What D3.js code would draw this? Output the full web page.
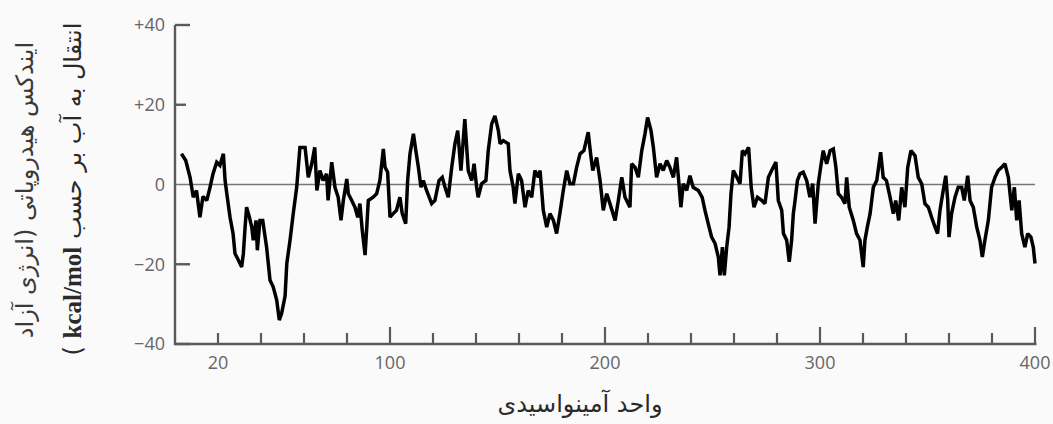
<!DOCTYPE html>
<html>
<head>
<meta charset="utf-8">
<script src="https://cdn.jsdelivr.net/npm/d3@7"></script>
<style>
    body { margin: 0; background: #fafafa; }
    svg { display: block; }
</style>
</head>
<body>
<div id="chart"></div>
<script>
// residue number (x) and hydropathy value (y)
var residuo = [3, 5, 7, 8.5, 10, 11.6, 13, 14.8, 16.3, 17.7, 19.4, 20.9, 22.5, 23.3, 24.1, 25.6, 27, 27.9, 29.5, 31,
    31.8, 32.6, 33.3, 34.6, 35.7, 36.4, 37.7, 38.3, 39.5, 40.8, 42.6, 44.2, 45.7, 47.3, 48.5, 49.6, 51.2, 52, 53.5, 55,
    56.6, 58.1, 60.5, 62, 63.6, 65, 66, 67.4, 68.9, 70.5, 71.2, 72.9, 74.4, 75.9, 77.2, 78.3, 79.9, 80.6, 82.2, 83.7,
    85, 86, 87.1, 88.4, 89.2, 89.9, 92.2, 93.8, 95.3, 96.9, 97.7, 98.9, 100, 101.5, 103, 104.6, 105.7, 107.3, 108.2, 109.3,
    110.9, 112, 113.2, 114.4, 115.5, 117, 119.4, 120.9, 122.8, 124.3, 125.6, 127.1, 128.7, 130.2, 131.5, 133, 134.8, 136.4, 138, 139.1,
    140.3, 141, 142.6, 144.6, 145.7, 147.3, 148.8, 150.4, 151.2, 152.7, 155, 155.8, 157.3, 158.1, 159.7, 161.2, 162.8, 164.3, 165.9, 167.4,
    169, 169.8, 171.3, 172.9, 174.4, 176, 177.5, 179, 180.6, 182.2, 183.7, 185.3, 186.8, 188.4, 190.2, 192.2, 193.3, 194.3, 196.1, 197.7,
    199.2, 200.8, 202.3, 204.7, 206.2, 207.8, 209.3, 211.6, 212.4, 214, 215.5, 217.1, 218.6, 219.8, 221.4, 222.5, 224, 225.6, 227.1, 228.7,
    230.2, 231.8, 233.3, 234.4, 235.3, 236.4, 238, 239.5, 241, 243.4, 245.2, 246.5, 248, 249.6, 251.2, 252.7, 253.5, 254.6, 255.5, 256.6,
    257.7, 258.6, 259.7, 261.3, 262.8, 263.9, 265.1, 266.8, 268, 269.3, 270.9, 272.9, 274.4, 276, 277.5, 279.5, 280.6, 282.2, 283, 284.5,
    285.7, 286.8, 287.6, 288.4, 289.5, 290.7, 292.2, 293.8, 295.3, 296.6, 297.7, 299.2, 300.3, 301.5, 303.1, 304.7, 306.2, 307.4, 308.5, 310,
    311.6, 312.4, 313.6, 315.5, 317, 318.6, 320.1, 320.9, 322, 323.3, 324.8, 326.4, 328.2, 329.4, 330.9, 332.6, 334.1, 335.2, 336.6, 338,
    339.5, 340.8, 342.3, 344.2, 345.7, 347.3, 348.8, 350.4, 351.9, 353.5, 354.7, 355.8, 357.3, 358.5, 359.4, 360, 361.2, 362.8, 364.3, 365.9,
    367.1, 368.7, 369.8, 371.3, 372.9, 374.4, 375.5, 376.7, 378.3, 379.8, 381.4, 382.9, 384.5, 386, 387.6, 389.2, 390.4, 391.5, 392.6, 393.8,
    395.3, 396.6, 398.1, 399.2, 400];

var hidropatia = [7.7, 6, 1.8, -3.2, -1.5, -8.2, -3, -4, -0.7, 2.7, 5.6, 4.8, 7.7, 1, -2.3, -8.2, -12.3, -17.3, -19, -20.7,
    -17.3, -10.7, -5.7, -8.2, -10.7, -14, -9, -16.5, -9, -9, -15.7, -24, -25.7, -29, -34, -32.3, -28, -19.8, -14, -7.3,
    -0.7, 9.3, 9.3, 1.8, 5.2, 9.3, -1.5, 3.5, 1, 2.7, -4, 5.6, -0.7, -3.2, -9, -4, 1.4, -2.3, -4, -5.7,
    -8.2, -4.8, -11.5, -17.7, -10.7, -4, -3.2, -2.3, 1, 8.9, 4.3, 3.1, -8.2, -7.3, -6.5, -3.2, -7.3, -9.8, 1, 7.7,
    12.7, 8.5, 4.3, -0.7, 1, -1.5, -4.8, -4, 1, 1.8, -0.7, -3.2, 4.3, 10.2, 13.5, 3.5, 16.4, 3.5, 1, 5.2,
    -0.7, -3.2, 0.2, 1, 8.5, 15.2, 17.2, 13.5, 10.2, 11, 10.2, 3.5, -0.7, -4.8, 2.7, 1, -5.7, -1.5, -3.2, 3.5,
    1.8, 3.5, -6.5, -10.7, -7.3, -9, -12.3, -7.3, -1.5, 3.5, 0.2, 0.2, 4.3, 7.7, 8.5, 13.1, 7.7, 3.5, 6.8, 1,
    -6.5, -2.3, -4.8, -9, -4, 1.8, -3.2, -5.7, 5.2, 4.3, 1.8, 8.5, 12.7, 16.8, 13.5, 9.3, 1.8, 5.2, 3.5, 6,
    4.3, 1.8, 6.8, 0.2, -5.7, 0.2, -1.5, 2.2, -0.7, -1.5, -3.2, -6.5, -9.8, -13.2, -14.8, -18.2, -22.8, -15.7, -22.8, -15.7,
    -10.7, -2.3, 3.5, 1.8, 0.2, 8.5, 7.7, 9.3, -0.7, -5.7, -3.2, -4, -4.8, 1.8, 3.5, 5.6, -4, -6.5, -12.3, -14,
    -19.4, -14, -7.3, -4, 1, 2.7, 3.1, 1, -3.2, 0.2, -9.8, 0.2, 4.3, 8.5, 5.2, 8.5, 8.9, 4.3, -2.3, -3.2,
    -4.8, 1.8, -5.7, -9, -12.3, -14, -20.7, -14, -10.7, -7.3, -0.7, 1, 8.1, 1.8, 1, -3.2, -7.3, -4, -9, -0.7,
    -5.7, 4.3, 8.5, 7.2, 1.8, 0.2, -4.8, -5.7, -8.2, -10.7, -12.3, -6.5, -1.5, 2.2, -4, -13.2, -7.3, -3.2, -0.7, -0.7,
    -4, 2.2, -4, -5.7, -10.7, -14, -18.2, -14, -9, -0.7, 1.8, 3.5, 4.3, 5.2, 1.8, -6.5, -0.7, -9, -4, -12.3,
    -15.7, -12.3, -13.2, -15.7, -19.8];

var ticksX = [20, 40, 60, 80, 100, 120, 140, 160, 180, 200, 220, 240, 260, 280, 300, 320, 340, 360, 380, 400];
var etiquetasX = [20, 100, 200, 300, 400];
var ticksY = [40, 20, -20, -40];
var etiquetasY = ["+40", "+20", "0", "\u221220", "\u221240"];
var valoresEtiquetasY = [40, 20, 0, -20, -40];

var tituloY1 = "ایندکس هیدروپاتی (انرژی آزاد";
var tituloY2a = "انتقال به آب بر حسب ";
var tituloY2b = "kcal/mol";
var tituloY2c = " )";
var tituloX = "واحد آمینواسیدی";

var width = 1053, height = 424;
var gris = "#5a5a5a";

var svg = d3.select("#chart").append("svg").attr("width", width).attr("height", height);

var x = d3.scaleLinear().domain([0, 400]).range([175, 1035]);
var y = d3.scaleLinear().domain([-40, 40]).range([344, 25]);

// zero line
svg.append("line")
    .attr("x1", x(0)).attr("x2", x(400))
    .attr("y1", y(0)).attr("y2", y(0))
    .attr("stroke", "#777").attr("stroke-width", 1.6);

// data line
var datos = residuo.map(function (r, i) { return [r, hidropatia[i]]; });
var linea = d3.line().x(function (d) { return x(d[0]); }).y(function (d) { return y(d[1]); });
svg.append("path")
    .datum(datos)
    .attr("d", linea)
    .attr("fill", "none")
    .attr("stroke", "#000")
    .attr("stroke-width", 3.5)
    .attr("stroke-linejoin", "miter")
    .attr("stroke-miterlimit", 2);

// axes
svg.append("line")
    .attr("x1", x(0)).attr("x2", x(0))
    .attr("y1", y(40)).attr("y2", y(-40) + 1)
    .attr("stroke", gris).attr("stroke-width", 2.4);
svg.append("line")
    .attr("x1", x(0) - 1).attr("x2", x(400) + 1.5)
    .attr("y1", y(-40)).attr("y2", y(-40))
    .attr("stroke", gris).attr("stroke-width", 2.4);

svg.selectAll(".tickY").data(ticksY).enter().append("line")
    .attr("x1", x(0)).attr("x2", function (d) { return x(0) + (d == 20 ? 11 : 15); })
    .attr("y1", function (d) { return y(d); }).attr("y2", function (d) { return y(d); })
    .attr("stroke", gris).attr("stroke-width", 2.4);

svg.selectAll(".tickX").data(ticksX).enter().append("line")
    .attr("x1", function (d) { return x(d); }).attr("x2", function (d) { return x(d); })
    .attr("y1", y(-40)).attr("y2", function (d) { return y(-40) - (d % 100 == 0 ? 17 : 11); })
    .attr("stroke", gris).attr("stroke-width", 2.2);

svg.selectAll(".labY").data(valoresEtiquetasY).enter().append("text")
    .attr("x", 165)
    .attr("y", function (d) { return y(d); })
    .attr("dy", "0.36em")
    .attr("text-anchor", "end")
    .style("font-family", "Open Sans, sans-serif")
    .style("font-size", "18px")
    .attr("fill", "#666")
    .text(function (d, i) { return etiquetasY[i]; });

svg.selectAll(".labX").data(etiquetasX).enter().append("text")
    .attr("x", function (d) { return x(d); })
    .attr("y", 369)
    .attr("text-anchor", "middle")
    .style("font-family", "Open Sans, sans-serif")
    .style("font-size", "18px")
    .attr("fill", "#666")
    .text(function (d) { return d; });

// titles
svg.append("text")
    .attr("transform", "translate(33,190) rotate(-90)")
    .attr("text-anchor", "middle")
    .attr("direction", "rtl")
    .style("font-family", "DejaVu Sans, sans-serif")
    .style("font-size", "24px")
    .attr("fill", "#3a3a3a")
    .text(tituloY1);

var t2 = svg.append("text")
    .attr("transform", "translate(81,189) rotate(-90)")
    .attr("text-anchor", "middle")
    .attr("direction", "rtl")
    .style("font-family", "DejaVu Sans, sans-serif")
    .style("font-size", "24px")
    .attr("fill", "#2a2a2a");
t2.append("tspan").text(tituloY2a);
t2.append("tspan").style("font-family", "Liberation Serif, serif").style("font-weight", "bold").style("font-size", "25px").text(tituloY2b);
t2.append("tspan").text(tituloY2c);

svg.append("text")
    .attr("x", 580)
    .attr("y", 412)
    .attr("text-anchor", "middle")
    .attr("direction", "rtl")
    .style("font-family", "DejaVu Sans, sans-serif")
    .style("font-size", "24px")
    .attr("fill", "#2a2a2a")
    .text(tituloX);
</script>
</body>
</html>
